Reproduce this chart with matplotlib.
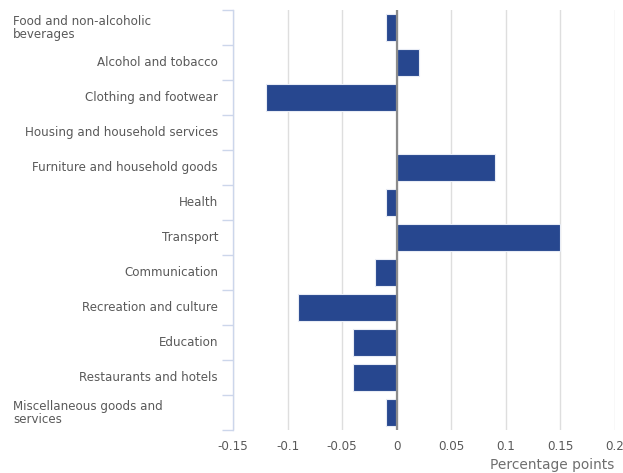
import matplotlib
matplotlib.use("Agg")
import matplotlib.pyplot as plt
import matplotlib.transforms as mtransforms

plt.rcParams['font.family'] = ['DejaVu Sans']

# categories, top to bottom
categories = [
    "Food and non-alcoholic\nbeverages",
    "Alcohol and tobacco",
    "Clothing and footwear",
    "Housing and household services",
    "Furniture and household goods",
    "Health",
    "Transport",
    "Communication",
    "Recreation and culture",
    "Education",
    "Restaurants and hotels",
    "Miscellaneous goods and\nservices",
]
values = [-0.01, 0.02, -0.12, 0.0, 0.09, -0.01, 0.15, -0.02, -0.09, -0.04, -0.04, -0.01]
xticks = [-0.15, -0.1, -0.05, 0, 0.05, 0.1, 0.15, 0.2]
xticklabels = ["-0.15", "-0.1", "-0.05", "0", "0.05", "0.1", "0.15", "0.2"]

txt = "#595959"
fs = 8.6

fig = plt.figure(figsize=(6.23, 4.73), dpi=100)
ax = fig.add_axes([233 / 623, 1 - 430 / 473, 382 / 623, 420 / 473])

pos = list(range(len(categories)))
ax.barh(pos, values, height=0.77, color="#27478f", edgecolor="#e8ecf5",
        linewidth=0.8, zorder=3)
ax.set_ylim(len(categories) - 0.5, -0.5)
ax.set_xlim(-0.15, 0.2)

# grid and zero line
for x in xticks:
    ax.axvline(x, color="#dedede", linewidth=1, zorder=1)
ax.axvline(0, color="#8c8c8c", linewidth=1.6, zorder=4)

for s in ["top", "right", "bottom"]:
    ax.spines[s].set_visible(False)
ax.spines["left"].set_color("#ccd6eb")
ax.spines["left"].set_linewidth(1)

ax.set_xticks(xticks)
ax.set_xticklabels(xticklabels, color=txt, fontsize=fs)
ax.tick_params(axis="x", length=0, pad=7)

# tick marks on category boundaries
ax.set_yticks([p - 0.5 for p in pos] + [len(pos) - 0.5])
ax.set_yticklabels([])
ax.tick_params(axis="y", length=8, color="#ccd6eb", width=1)

# category labels
tr = mtransforms.blended_transform_factory(fig.transFigure, ax.transData)
for p, lab in zip(pos, categories):
    if "\n" in lab:
        ax.text(13 / 623, p, lab, transform=tr, ha="left", va="center",
                fontsize=fs, color=txt, linespacing=1.0)
    else:
        ax.text(218 / 623, p, lab, transform=tr, ha="right", va="center",
                fontsize=fs, color=txt)

fig.text(614 / 623, 1 - 465 / 473, "Percentage points", ha="right",
         va="center", fontsize=9.9, color="#6e6e6e")

fig.savefig("out.png", dpi=100)
